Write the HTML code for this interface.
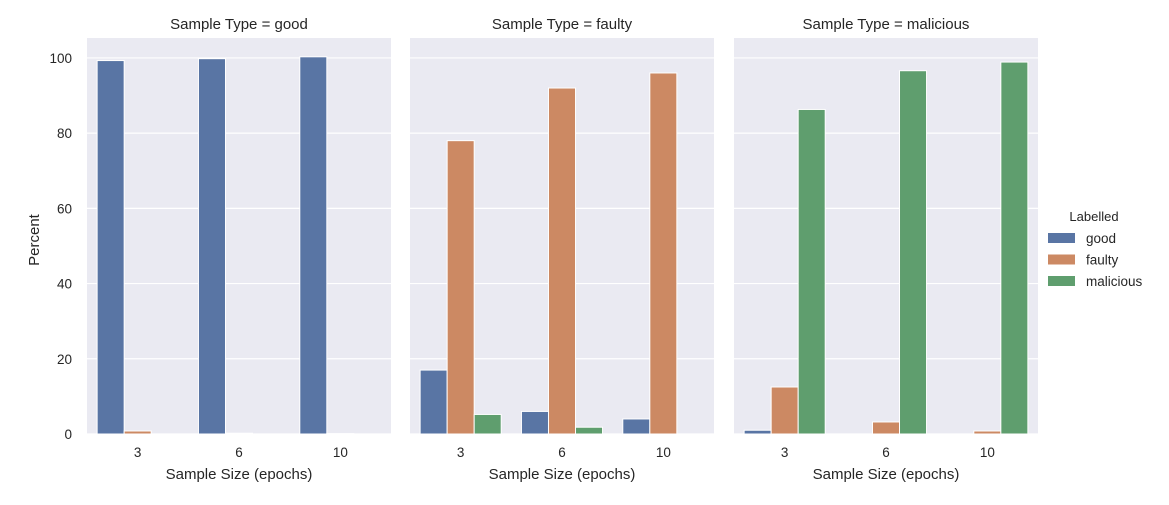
<!DOCTYPE html>
<html><head><meta charset="utf-8"><style>
body{margin:0;background:#fff;font-family:"Liberation Sans",Arial,sans-serif}
svg text{fill:#262626}
</style></head><body>
<svg id="chart" width="1169" height="500" xmlns="http://www.w3.org/2000/svg"></svg>
<script>
const panelTitles = ["Sample Type = good","Sample Type = faulty","Sample Type = malicious"];
const categories = ["3","6","10"];
const hueLabels = ["good","faulty","malicious"];
const colors = ["#5975a4","#cc8963","#5f9e6e"];
const goodPanel = [[99.3,99.8,100.3],[0.8,0.2,0.1],[0,0,0]];
const faultyPanel = [[17,6,4],[78,92,96],[5.2,1.8,0]];
const maliciousPanel = [[1,0,0],[12.5,3.2,0.8],[86.3,96.6,98.9]];
const panels = [goodPanel, faultyPanel, maliciousPanel];
const yTicks = [0,20,40,60,80,100];

const NS="http://www.w3.org/2000/svg";
const svg=document.getElementById('chart');
function mk(tag,attrs,parent){const e=document.createElementNS(NS,tag);for(const k in attrs)e.setAttribute(k,attrs[k]);(parent||svg).appendChild(e);return e;}
const panelLeft=[87,410,734], pw=304, plotTop=38, plotBottom=434;
const yMax=105.3;
const yScale=v=>plotBottom - v/yMax*(plotBottom-plotTop);
panels.forEach((data,p)=>{
  const g=mk('g',{});
  
  
  const x0=panelLeft[p];
  const bg=mk('rect',{x:x0,y:plotTop,width:pw,height:plotBottom-plotTop,fill:'#eaeaf2'},g);
  
  
  yTicks.forEach(t=>{
    const l=mk('line',{x1:x0,x2:x0+pw,y1:yScale(t),y2:yScale(t),stroke:'#fff','stroke-width':1.2},g);
    
    
    if(p===0){const tx=mk('text',{x:72,y:yScale(t)+5,'text-anchor':'end','font-size':13.5},g);tx.textContent=t;
      
      }
  });
  const cw=pw/categories.length, bw=cw*0.8/hueLabels.length;
  categories.forEach((c,ci)=>{
    const cx=x0+cw*(ci+0.5);
    hueLabels.forEach((h,hi)=>{
      const v=data[hi][ci];
      const bx=cx-cw*0.4+bw*hi;
      const r=mk('rect',{x:bx,y:yScale(v),width:bw,height:Math.max(0,plotBottom-yScale(v)),fill:colors[hi],stroke:'#fff','stroke-width':1},g);
      
      
    });
    const tl=mk('text',{x:cx,y:457,'text-anchor':'middle','font-size':13.5},g);tl.textContent=c;
    
    
  });
  const xt=mk('text',{x:x0+pw/2,y:479,'text-anchor':'middle','font-size':15},g);xt.textContent='Sample Size (epochs)';
  
  
  const pt=mk('text',{x:x0+pw/2,y:29,'text-anchor':'middle','font-size':15},g);pt.textContent=panelTitles[p];
  
  
});
const yl=mk('text',{x:0,y:0,'text-anchor':'middle','font-size':15,transform:'translate(39,240) rotate(-90)'});yl.textContent='Percent';


const lg=mk('g',{});


const lt=mk('text',{x:1094,y:221,'text-anchor':'middle','font-size':13},lg);lt.textContent='Labelled';


hueLabels.forEach((h,i)=>{
  const yy=238+i*21.5;
  const e=mk('g',{},lg);
  
  
  mk('rect',{x:1048,y:yy-5,width:27,height:10,fill:colors[i]},e);
  const t=mk('text',{x:1086,y:yy+5,'font-size':13.5},e);t.textContent=h;
});
</script>
</body></html>
